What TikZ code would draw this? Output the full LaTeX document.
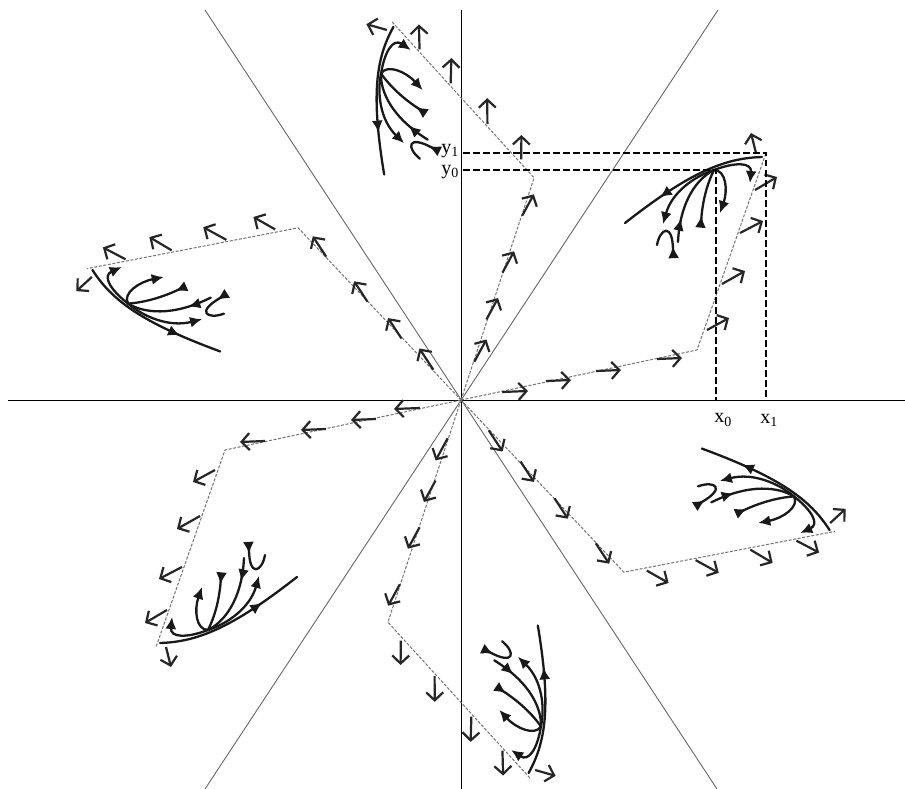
\documentclass[tikz,border=0pt]{standalone}
\usepackage{fontspec}
\setmainfont{Liberation Serif}
\usetikzlibrary{arrows.meta,decorations.markings}
\tikzset{
  edgeline/.style={draw=black!55, line width=1pt, dash pattern=on 3pt off 1.6pt},
  flow/.style={line width=2.2pt, black!85, -{Straight Barb[length=8pt,width=17pt,line width=2.2pt]}},
  traj/.style={line width=2.3pt, black!90, line cap=round},
  tipend/.style={-{Latex[length=12pt,width=11pt]}},
  fwd/.style={postaction={decorate,decoration={markings,mark=at position #1 with {\arrow{Latex[length=12pt,width=11pt]}}}}},
  bwd/.style={postaction={decorate,decoration={markings,mark=at position #1 with {\arrowreversed{Latex[length=12pt,width=11pt]}}}}},
  axisline/.style={line width=0.9pt},
  diagline/.style={draw=black!60, line width=0.9pt},
  guide/.style={line width=1.8pt, dash pattern=on 6.5pt off 3.5pt},
  lab/.style={font=\fontsize{20}{24}\selectfont, inner sep=0pt}
}
\begin{document}
\begin{tikzpicture}[x=1pt,y=-1pt]
\fill[white] (0,0) rectangle (905,789);
\useasboundingbox (0,0) rectangle (905,789);
% reference lines
\draw[diagline] (205,10) -- (717,789);
\draw[diagline] (718,10) -- (205,789);
\draw[axisline] (8,400) -- (905,400);
\draw[axisline] (461,10) -- (461,789);
\coordinate (O) at (461,400);
% six rotated sectors
\foreach \k in {0,...,5}{
\begin{scope}[shift={(461,400)}, yscale=0.965, rotate=60*\k, yscale=1/0.965, shift={(-461,-400)}]
  \coordinate (A) at (697,350);
  \coordinate (B) at (766,153);
  \coordinate (F) at (714,170);
  \draw[edgeline] (461,400) -- (A) -- (B);
  % flow arrows on first edge
  \draw[flow] (502,392) -- (528,391);
  \draw[flow] (546,381) -- (571,380);
  \draw[flow] (596,371) -- (621,370);
  \draw[flow] (657,359) -- (682,358);
  % flow arrows on second edge
  \draw[flow] (707,330) -- (729,318);
  \draw[flow] (722,284) -- (745,271);
  \draw[flow] (740,233) -- (763,221);
  \draw[flow] (755,190) -- (777,177);
  \draw[flow] (756,153) -- (751,133);
  % trajectories
  \draw[traj, fwd=0.72] (762,157) .. controls (725,158) and (690,172) .. (625,223);
  \draw[traj, tipend] (F) .. controls (735,162) and (752,162) .. (750,183);
  \draw[traj, tipend] (F) .. controls (695,176) and (672,192) .. (663,224);
  \draw[traj, bwd=0.72] (F) .. controls (698,178) and (680,200) .. (678,242);
  \draw[traj, bwd=0.85] (F) .. controls (708,182) and (702,200) .. (701,224);
  \draw[traj, tipend] (F) .. controls (726,170) and (728,190) .. (720,213);
  \draw[traj, bwd=0.88] (657,245) .. controls (660,228) and (673,222) .. (673,251);
\end{scope}}
% guide lines for the right sector
\draw[guide] (463,153) -- (766,153) -- (766,400);
\draw[guide] (463,170) -- (716,170) -- (716,400);
\node[lab, anchor=east] (y1) at (459,151) {y\textsubscript{1}};
\node[lab, anchor=east] (y0) at (459,172) {y\textsubscript{0}};
\node[lab] (x0) at (723,420) {x\textsubscript{0}};
\node[lab] (x1) at (769,420) {x\textsubscript{1}};
\end{tikzpicture}
\end{document}
